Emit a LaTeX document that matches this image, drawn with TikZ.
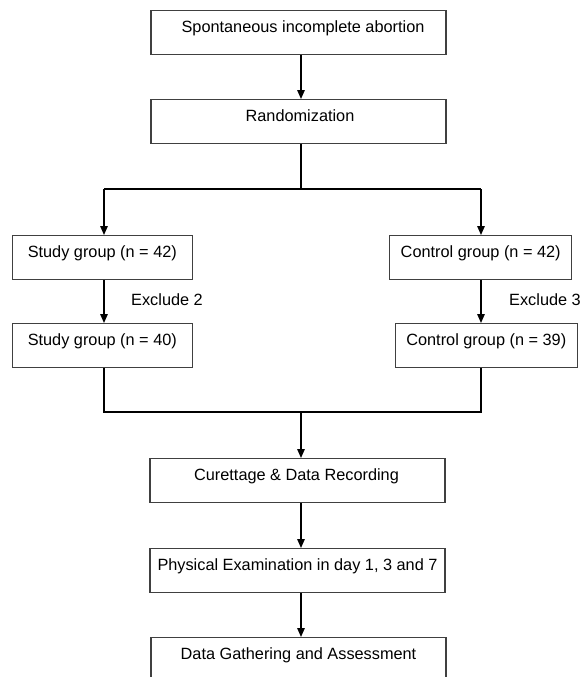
\documentclass[tikz,border=0pt]{standalone}
\usepackage{fontspec}
\setmainfont{Liberation Sans}
\usetikzlibrary{arrows.meta}
\begin{document}
\begin{tikzpicture}[x=1pt,y=-1pt,
  box/.style={draw=black!75, line width=1.1pt, fill=white, inner xsep=0pt, inner ysep=0pt,
    text height=22pt, text depth=22pt, anchor=north, font=\fontsize{16.3}{19}\selectfont},
  arr/.style={line width=1.4pt, -{Triangle[length=9pt,width=7.5pt]}},
  ln/.style={line width=1.4pt},
  lbl/.style={font=\fontsize{16.3}{19}\selectfont}]
\useasboundingbox (0,0) rectangle (584,677);
\clip (0,0) rectangle (584,677);
\node[box, minimum width=295pt] (b1) at (298.5,10) {\hspace*{9pt}Spontaneous incomplete abortion};
\node[box, minimum width=295pt] (b2) at (298.5,99) {\hspace*{3pt}Randomization};
\node[box, minimum width=180.5pt] (sg1) at (102.3,235) {Study group (n = 42)};
\node[box, minimum width=182pt] (cg1) at (480.7,235) {Control group (n = 42)};
\node[box, minimum width=180.5pt] (sg2) at (102.3,323) {Study group (n = 40)};
\node[box, minimum width=182pt] (cg2) at (486.3,323) {Control group (n = 39)};
\node[box, minimum width=295pt] (cur) at (297.5,458) {Curettage \& Data Recording\hspace*{2pt}};
\node[box, minimum width=295pt] (phy) at (297.5,548) {Physical Examination in day 1, 3 and 7};
\node[box, minimum width=295pt] (dat) at (298.5,637) {Data Gathering and Assessment};
\node[lbl] (ex2) at (167,299.5) {Exclude 2};
\node[lbl] (ex3) at (545,299.5) {Exclude 3};
\coordinate (br) at (301,189);
\coordinate (mg) at (301,412);
\coordinate (L) at (104,189);
\coordinate (R) at (481,189);
\draw[arr] (b1.south -| br) -- (b2.north -| br);
\draw[ln] (b2.south -| br) -- (br);
\draw[ln] (L) -- (R);
\draw[arr] (L) -- (L |- sg1.north);
\draw[arr] (R) -- (R |- cg1.north);
\draw[arr] (L |- sg1.south) -- (L |- sg2.north);
\draw[arr] (R |- cg1.south) -- (R |- cg2.north);
\draw[ln] (L |- sg2.south) -- (L |- mg) -- (R |- mg) -- (R |- cg2.south);
\draw[arr] (mg) -- (cur.north -| mg);
\draw[arr] (cur.south -| mg) -- (phy.north -| mg);
\draw[arr] (phy.south -| mg) -- (dat.north -| mg);
\end{tikzpicture}
\end{document}
